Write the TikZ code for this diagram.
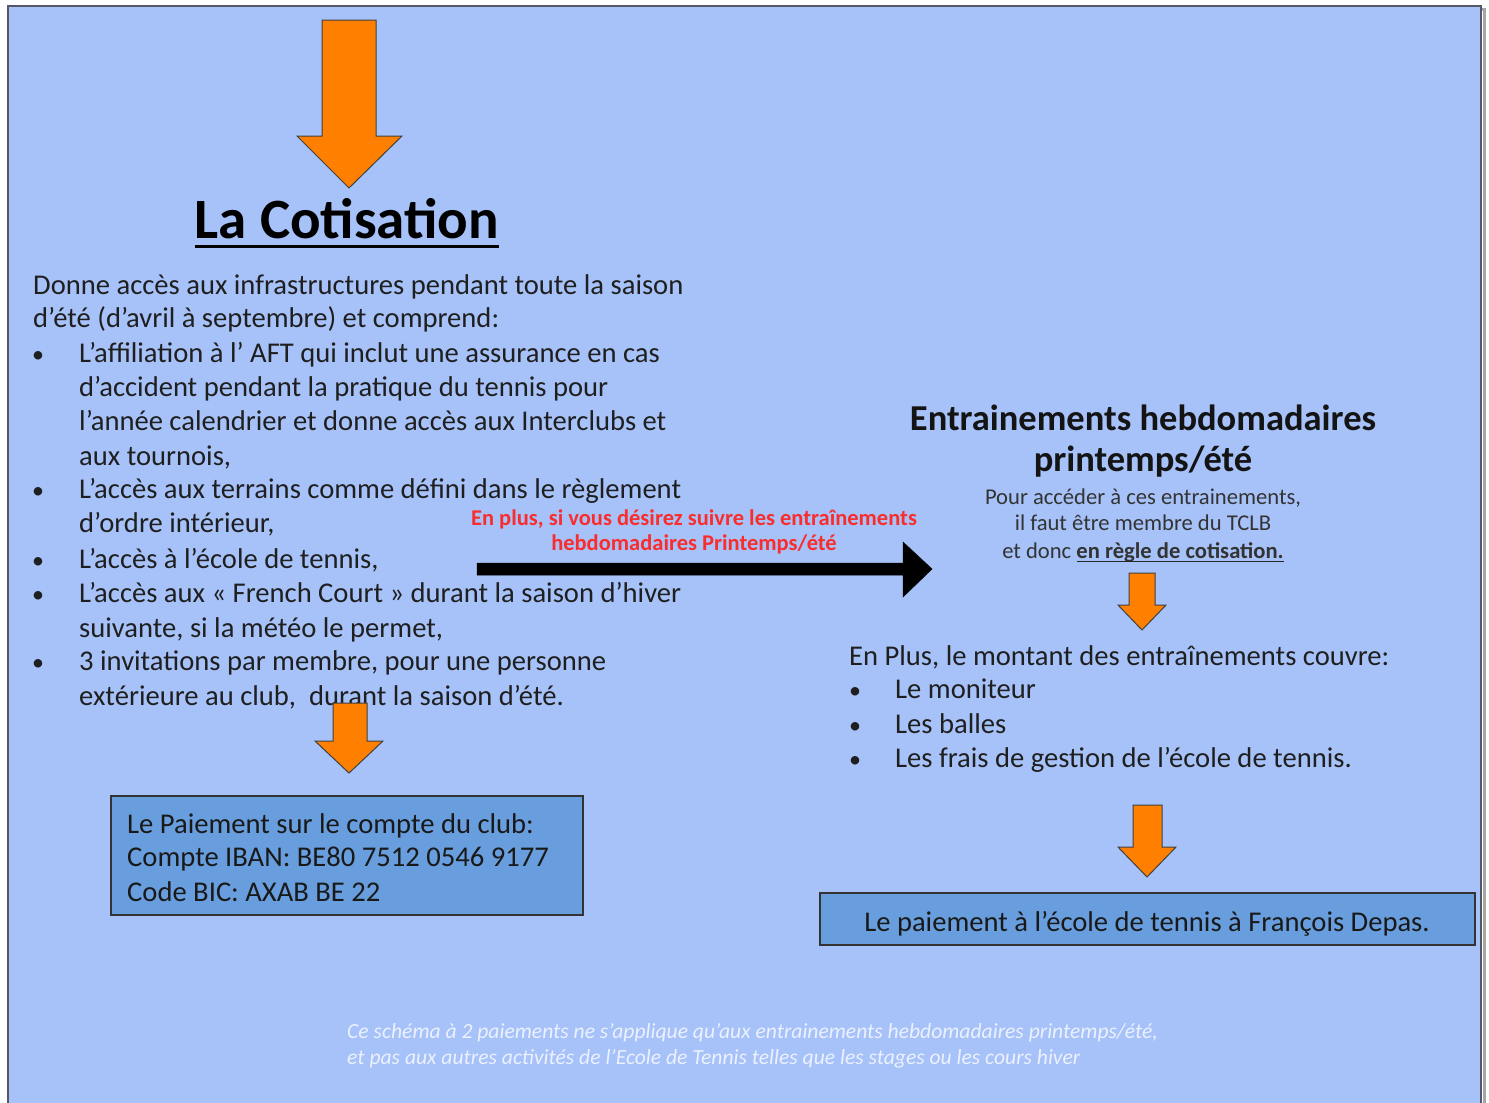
\documentclass[tikz,border=0pt]{standalone}
\usepackage{fontspec}
\setmainfont{Carlito}
\newcommand{\sq}{{\char"27}}
\definecolor{bgblue}{RGB}{166,194,249}
\definecolor{boxblue}{RGB}{104,158,221}
\definecolor{arrorange}{RGB}{255,128,0}
\definecolor{redtxt}{RGB}{250,45,45}
\definecolor{notewhite}{RGB}{236,241,255}
\definecolor{framegray}{RGB}{85,88,100}
\tikzset{
  body/.style={font=\fontsize{28.6}{34}\selectfont, text=black!88, inner sep=0, anchor=base west},
  bulletmark/.style={font=\fontsize{24}{30}\selectfont, text=black!88, inner sep=0, anchor=base},
  smalltxt/.style={font=\fontsize{22.6}{26}\selectfont, text=black!80, inner sep=0, anchor=base},
  redline/.style={font=\fontsize{22.5}{26}\selectfont\bfseries, text=redtxt, inner sep=0, anchor=base},
  righttitle/.style={font=\fontsize{36.5}{40}\selectfont\bfseries, text=black!92, inner sep=0, anchor=base},
  boxtxt/.style={font=\fontsize{28.6}{34}\selectfont, text=black!90, inner sep=0, anchor=base west},
  notetxt/.style={font=\fontsize{21.6}{26}\selectfont\itshape, text=notewhite, inner sep=0, anchor=base west},
  paybox/.style={draw=black!80, line width=1.5, fill=boxblue, inner sep=0},
  orangearrow/.style={fill=arrorange, draw=black!75, line width=1, line join=miter},
  blackarrow/.style={fill=black, draw=black, line width=0.5, line join=miter}
}
\begin{document}
\begin{tikzpicture}[x=1pt,y=-1pt]
\useasboundingbox (0,0) rectangle (1489,1103);
\fill[white] (0,0) rectangle (1489,1103);
% frame with shadow
\draw[black!35, line width=3] (11,9) rectangle (1484,1115);
\draw[fill=bgblue, draw=framegray, line width=2] (8,6) rectangle (1481,1112);

% top arrow
\draw[orangearrow] (322,20) -- (376,20) -- (376,136) -- (402,136) -- (349,188) -- (297,136) -- (322,136) -- cycle;

% title
\node[font=\fontsize{57}{60}\selectfont\bfseries, text=black, inner sep=0, anchor=base] (title) at (347,238) {La Cotisation};
\draw[line width=3] ([yshift=-8pt]title.base west) -- ([yshift=-8pt]title.base east);

% left text
\node[body] (l1) at (33,294) {Donne accès aux infrastructures pendant toute la saison};
\node[body] (l2) at (33,327) {d’été (d’avril à septembre) et comprend:};
\node[body] (l3) at (79,362) {L’affiliation à l’ AFT qui inclut une assurance en cas};
\node[body] (l4) at (79,396) {d’accident pendant la pratique du tennis pour};
\node[body] (l5) at (79,430) {l’année calendrier et donne accès aux Interclubs et};
\node[body] (l6) at (79,465) {aux tournois,};
\node[body] (l7) at (79,498) {L’accès aux terrains comme défini dans le règlement};
\node[body] (l8) at (79,532) {d’ordre intérieur,};
\node[body] (l9) at (79,568) {L’accès à l’école de tennis,};
\node[body] (l10) at (79,602) {L’accès aux « French Court » durant la saison d’hiver};
\node[body] (l11) at (79,637) {suivante, si la météo le permet,};
\node[body] (l12) at (79,670) {3 invitations par membre, pour une personne};
\node[body] (l13) at (79,705) {extérieure au club,\ \ durant la saison d’été.};
\node[bulletmark] (b1) at (38,362) {•};
\node[bulletmark] (b2) at (38,498) {•};
\node[bulletmark] (b3) at (38,568) {•};
\node[bulletmark] (b4) at (38,602) {•};
\node[bulletmark] (b5) at (38,670) {•};

% red text and black arrow
\node[redline] (r1) at (694,525) {En plus, si vous désirez suivre les entraînements};
\node[redline] (r2) at (694,550) {hebdomadaires Printemps/été};
\draw[blackarrow] (477,563) -- (903,563) -- (903,542) -- (932,569) -- (903,597) -- (903,575) -- (477,575) -- cycle;

% right block
\node[righttitle] (rt1) at (1143,430) {Entrainements hebdomadaires};
\node[righttitle] (rt2) at (1143,471) {printemps/été};
\node[smalltxt] (s1) at (1143,504) {Pour accéder à ces entrainements,};
\node[smalltxt] (s2) at (1143,530) {il faut être membre du TCLB};
\node[smalltxt] (s3) at (1143,558) {et donc \textbf{en règle de cotisation.}};
\path (s3.base east) ++(0,-3.5pt) coordinate (ulend);
\path (s3.base east) ++(-207,0) ++(0,-3.5pt) coordinate (ulstart);
\draw[line width=1.8, black!85] (ulstart) -- (ulend);

\draw[orangearrow] (1129,573) -- (1155,573) -- (1155,605) -- (1166,605) -- (1142,630) -- (1118,605) -- (1129,605) -- cycle;

\node[body] (p0) at (849,665) {En Plus, le montant des entraînements couvre:};
\node[body] (p1) at (895,698) {Le moniteur};
\node[body] (p2) at (895,733) {Les balles};
\node[body] (p3) at (895,767) {Les frais de gestion de l’école de tennis.};
\node[bulletmark] (pb1) at (855,698) {•};
\node[bulletmark] (pb2) at (855,733) {•};
\node[bulletmark] (pb3) at (855,767) {•};

% left bottom arrow and box
\draw[orangearrow] (333,703) -- (367,703) -- (367,741) -- (383,741) -- (349,773) -- (315,741) -- (333,741) -- cycle;
\node[paybox, minimum width=472, minimum height=119] (box1) at (347,855.5) {};
\node[boxtxt] (k1) at (127,833) {Le Paiement sur le compte du club:};
\node[boxtxt] (k2) at (127,866) {Compte IBAN: BE80 7512 0546 9177};
\node[boxtxt] (k3) at (127,901) {Code BIC: AXAB BE 22};

% right bottom arrow and box
\draw[orangearrow] (1133,805) -- (1162,805) -- (1162,847) -- (1176,847) -- (1147,877) -- (1118,847) -- (1133,847) -- cycle;
\node[paybox, minimum width=655, minimum height=52] (box2) at (1147.5,919) {};
\node[boxtxt, anchor=base] (k4) at (1147,931) {Le paiement à l\sq école de tennis à François Depas.};

% note
\node[notetxt] (n1) at (347,1038) {Ce schéma à 2 paiements ne s\sq applique qu\sq aux entrainements hebdomadaires printemps/été,};
\node[notetxt] (n2) at (347,1064) {et pas aux autres activités de l\sq Ecole de Tennis telles que les stages ou les cours hiver};
\end{tikzpicture}
\end{document}
